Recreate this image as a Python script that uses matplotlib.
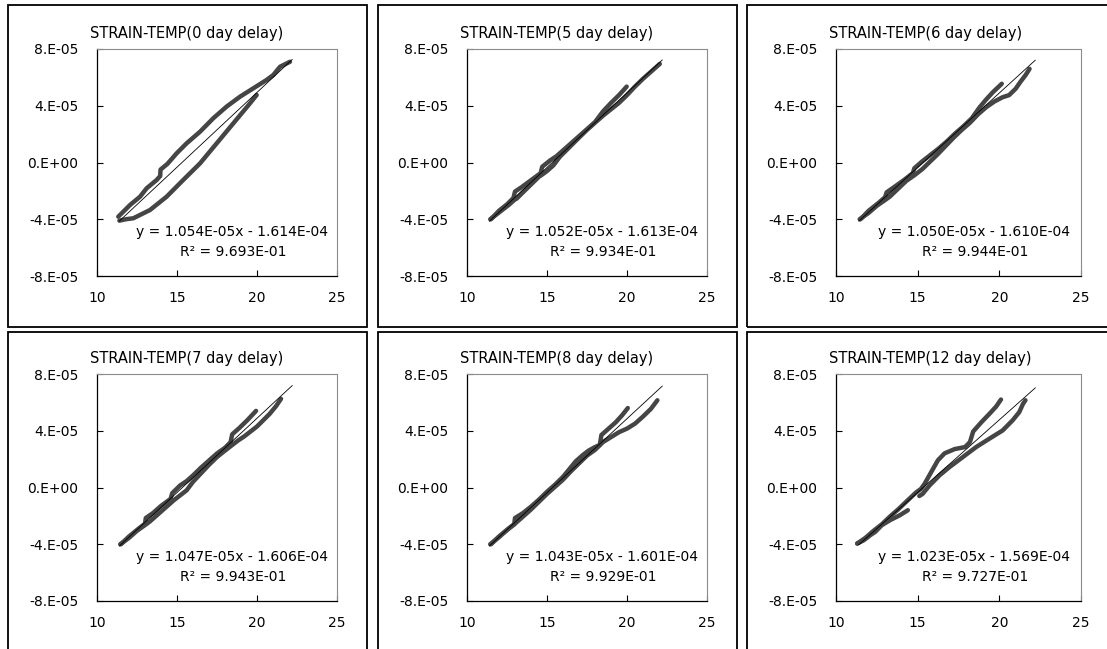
import matplotlib
matplotlib.use("Agg")
import matplotlib.pyplot as plt
from matplotlib.patches import Rectangle

plt.rcParams['font.family'] = ['DejaVu Sans']

# ---------------- data (strain in units of 1e-5) ----------------
titles = ["STRAIN-TEMP(0 day delay)", "STRAIN-TEMP(5 day delay)", "STRAIN-TEMP(6 day delay)",
          "STRAIN-TEMP(7 day delay)", "STRAIN-TEMP(8 day delay)", "STRAIN-TEMP(12 day delay)"]
slopes = [1.054e-05, 1.052e-05, 1.050e-05, 1.047e-05, 1.043e-05, 1.023e-05]
intercepts = [-1.614e-04, -1.613e-04, -1.610e-04, -1.606e-04, -1.601e-04, -1.569e-04]
eq_labels = ["y = 1.054E-05x - 1.614E-04", "y = 1.052E-05x - 1.613E-04", "y = 1.050E-05x - 1.610E-04",
             "y = 1.047E-05x - 1.606E-04", "y = 1.043E-05x - 1.601E-04", "y = 1.023E-05x - 1.569E-04"]
r2_labels = ["R² = 9.693E-01", "R² = 9.934E-01", "R² = 9.944E-01",
             "R² = 9.943E-01", "R² = 9.929E-01", "R² = 9.727E-01"]
trend_range = [11.4, 22.2]

xticks = [10, 15, 20, 25]
yticks = [-8e-05, -4e-05, 0.0, 4e-05, 8e-05]
ytick_labels = ["-8.E-05", "-4.E-05", "0.E+00", "4.E-05", "8.E-05"]

# 0 day delay
d0_up_t = [11.33, 12.06, 12.69, 13.10, 13.73, 13.95, 13.97, 14.40, 14.98, 15.60, 16.44, 17.27, 18.10, 18.94, 19.77, 20.60, 21.02, 21.44, 22.06]
d0_up_s = [-3.82, -3.00, -2.41, -1.82, -1.23, -0.95, -0.50, -0.10, 0.65, 1.35, 2.17, 3.12, 3.94, 4.64, 5.23, 5.82, 6.17, 6.75, 7.10]
d0_lo_t = [11.40, 11.80, 12.27, 13.31, 14.35, 15.39, 16.44, 17.48, 18.52, 19.56, 19.98]
d0_lo_s = [-4.10, -4.00, -3.93, -3.35, -2.41, -1.23, -0.06, 1.35, 2.76, 4.17, 4.76]

# 5 day delay
d5_lo_t = [11.45, 11.8, 12.2, 12.6, 13.0, 13.1, 13.5, 14.0, 14.5, 14.7, 15.0, 15.4, 15.8, 16.2, 16.6, 17.0, 17.5, 18.0, 18.5, 19.0, 19.5, 20.0, 20.5, 21.0, 21.5, 22.05]
d5_lo_s = [-4.0, -3.7, -3.35, -3.0, -2.6, -2.55, -2.1, -1.55, -1.0, -0.85, -0.6, -0.2, 0.4, 0.85, 1.3, 1.75, 2.3, 2.8, 3.3, 3.75, 4.2, 4.75, 5.35, 5.9, 6.4, 6.95]
d5_up_t = [11.5, 12.0, 12.5, 12.9, 13.0, 13.4, 14.0, 14.6, 14.7, 15.2, 15.6, 16.0, 16.5, 17.0, 17.5, 18.0, 18.5, 19.0, 19.5, 19.98]
d5_up_s = [-4.0, -3.4, -2.95, -2.5, -2.05, -1.75, -1.25, -0.75, -0.3, 0.15, 0.45, 0.85, 1.35, 1.85, 2.35, 2.85, 3.6, 4.2, 4.75, 5.35]

# 6 day delay
d6_lo_t = [11.45, 12.0, 12.5, 13.0, 13.3, 13.8, 14.3, 14.8, 15.3, 15.7, 16.2, 16.7, 17.2, 17.7, 18.2, 18.7, 19.2, 19.7, 20.2, 20.6, 21.0, 21.3, 21.6, 21.85]
d6_lo_s = [-4.0, -3.55, -3.05, -2.65, -2.4, -1.85, -1.3, -0.9, -0.45, 0.0, 0.55, 1.15, 1.75, 2.3, 2.8, 3.4, 3.9, 4.3, 4.6, 4.75, 5.2, 5.7, 6.15, 6.6]
d6_up_t = [11.5, 12.0, 12.6, 13.0, 13.1, 13.6, 14.2, 14.7, 14.8, 15.3, 15.8, 16.3, 16.8, 17.3, 17.8, 18.3, 18.8, 19.2, 19.6, 20.15]
d6_up_s = [-4.0, -3.4, -2.85, -2.45, -2.1, -1.7, -1.2, -0.75, -0.4, 0.1, 0.55, 1.0, 1.5, 2.05, 2.55, 3.1, 3.9, 4.45, 4.95, 5.55]

# 7 day delay
d7_lo_t = [11.45, 12.0, 12.5, 13.0, 13.3, 13.8, 14.3, 14.8, 15.2, 15.6, 16.0, 16.5, 17.0, 17.5, 18.0, 18.4, 18.8, 19.2, 19.6, 20.0, 20.4, 20.8, 21.2, 21.5]
d7_lo_s = [-4.0, -3.55, -3.05, -2.65, -2.4, -1.9, -1.4, -0.9, -0.55, -0.2, 0.4, 1.0, 1.6, 2.15, 2.6, 2.95, 3.3, 3.6, 3.95, 4.3, 4.75, 5.2, 5.75, 6.25]
d7_up_t = [11.5, 12.0, 12.6, 13.0, 13.05, 13.5, 14.0, 14.6, 14.7, 15.2, 15.6, 16.0, 16.5, 17.0, 17.5, 18.0, 18.35, 18.45, 18.9, 19.4, 19.94]
d7_up_s = [-4.0, -3.45, -2.9, -2.55, -2.15, -1.8, -1.3, -0.8, -0.4, 0.15, 0.45, 0.85, 1.4, 1.9, 2.4, 2.8, 3.2, 3.75, 4.2, 4.75, 5.4]

# 8 day delay
d8_lo_t = [11.45, 12.0, 12.5, 13.0, 13.5, 14.0, 14.5, 15.0, 15.5, 16.0, 16.5, 17.0, 17.5, 18.0, 18.5, 19.0, 19.5, 20.0, 20.5, 21.0, 21.5, 21.9]
d8_lo_s = [-4.0, -3.5, -3.0, -2.55, -2.05, -1.55, -1.0, -0.45, 0.05, 0.55, 1.15, 1.7, 2.25, 2.65, 3.2, 3.55, 3.9, 4.15, 4.5, 5.0, 5.55, 6.15]
d8_up_t = [11.5, 12.0, 12.7, 12.95, 13.0, 13.5, 14.0, 14.5, 15.0, 15.5, 16.0, 16.4, 16.8, 17.2, 17.6, 18.0, 18.3, 18.4, 18.8, 19.3, 19.7, 20.05]
d8_up_s = [-4.0, -3.45, -2.8, -2.6, -2.15, -1.8, -1.35, -0.85, -0.3, 0.2, 0.75, 1.3, 1.85, 2.25, 2.6, 2.85, 3.0, 3.7, 4.1, 4.6, 5.1, 5.6]

# 12 day delay
d12_a_t = [11.3, 11.8, 12.3, 12.8, 13.3, 13.8, 14.3, 14.9, 15.2, 15.43, 15.83, 16.24, 16.65, 17.27, 17.9, 18.2, 18.4, 18.9, 19.4, 19.8, 20.1]
d12_a_s = [-3.95, -3.55, -3.05, -2.6, -2.05, -1.55, -1.0, -0.35, -0.1, 0.27, 1.09, 1.92, 2.41, 2.71, 2.85, 3.2, 3.95, 4.6, 5.2, 5.7, 6.2]
d12_b_t = [15.1, 15.3, 15.73, 16.34, 16.95, 17.77, 18.58, 19.39, 20.2, 20.81, 21.22, 21.45, 21.6]
d12_b_s = [-0.6, -0.45, 0.15, 0.86, 1.44, 2.15, 2.85, 3.44, 4.02, 4.73, 5.31, 5.9, 6.15]
d12_c_t = [14.4, 13.9, 13.3, 12.8, 12.4, 12.1, 11.7, 11.3]
d12_c_s = [-1.6, -1.96, -2.31, -2.66, -3.13, -3.36, -3.72, -3.95]

branches = [
    [(d0_up_t, d0_up_s), (d0_lo_t, d0_lo_s)],
    [(d5_lo_t, d5_lo_s), (d5_up_t, d5_up_s)],
    [(d6_lo_t, d6_lo_s), (d6_up_t, d6_up_s)],
    [(d7_lo_t, d7_lo_s), (d7_up_t, d7_up_s)],
    [(d8_lo_t, d8_lo_s), (d8_up_t, d8_up_s)],
    [(d12_a_t, d12_a_s), (d12_b_t, d12_b_s), (d12_c_t, d12_c_s)],
]

# ---------------- layout (pixels) ----------------
W, H = 1107, 649
fig = plt.figure(figsize=(W / 100, H / 100), dpi=100)
fig.patch.set_facecolor('white')

box_left = [8, 378, 747]
box_top = [5, 332]
box_w, box_h = 359, 322
ax_left = [97, 467, 836]
ax_w = [240, 240, 245]
ax_top = [49, 374]
ax_h = 227

for r in range(2):
    for c in range(3):
        bx = box_left[c]
        by = box_top[r]
        bw = box_w if c < 2 else (W + 5 - bx)
        fig.add_artist(Rectangle((bx / W, 1 - (by + box_h) / H), bw / W, box_h / H,
                                 transform=fig.transFigure, fill=False,
                                 ec='black', lw=1.3))

for i in range(6):
    r, c = divmod(i, 3)
    left = ax_left[c] / W
    bottom = 1 - (ax_top[r] + ax_h) / H
    ax = fig.add_axes([left, bottom, ax_w[c] / W, ax_h / H])
    ax.set_xlim(10, 25)
    ax.set_ylim(-8e-05, 8e-05)
    for (t, s) in branches[i]:
        ax.plot(t, [v * 1e-5 for v in s], color='#454545', lw=3.2,
                solid_capstyle='round', solid_joinstyle='round', zorder=2)
    tx = trend_range
    ax.plot(tx, [slopes[i] * x + intercepts[i] for x in tx], color='black', lw=0.6, zorder=3)

    ax.set_xticks(xticks)
    ax.set_xticklabels([str(v) for v in xticks])
    ax.set_yticks(yticks)
    ax.set_yticklabels(ytick_labels)
    ax.tick_params(direction='in', length=4, width=0.8, labelsize=10,
                   top=False, right=False, colors='black')
    ax.tick_params(axis='y', pad=13.5)
    ax.tick_params(axis='x', pad=10.5)
    for side in ['left', 'bottom']:
        ax.spines[side].set_color('black')
        ax.spines[side].set_linewidth(0.9)
    for side in ['top', 'right']:
        ax.spines[side].set_color('#8c8c8c')
        ax.spines[side].set_linewidth(0.8)

    ax.text(-0.03, 1.07, titles[i], transform=ax.transAxes, ha='left', va='center', fontsize=10.5)
    ax.text(0.5625, 0.194, eq_labels[i], transform=ax.transAxes, ha='center', va='center', fontsize=10)
    ax.text(0.569, 0.106, r2_labels[i], transform=ax.transAxes, ha='center', va='center', fontsize=10)

fig.savefig('out.png', dpi=100, facecolor='white')
